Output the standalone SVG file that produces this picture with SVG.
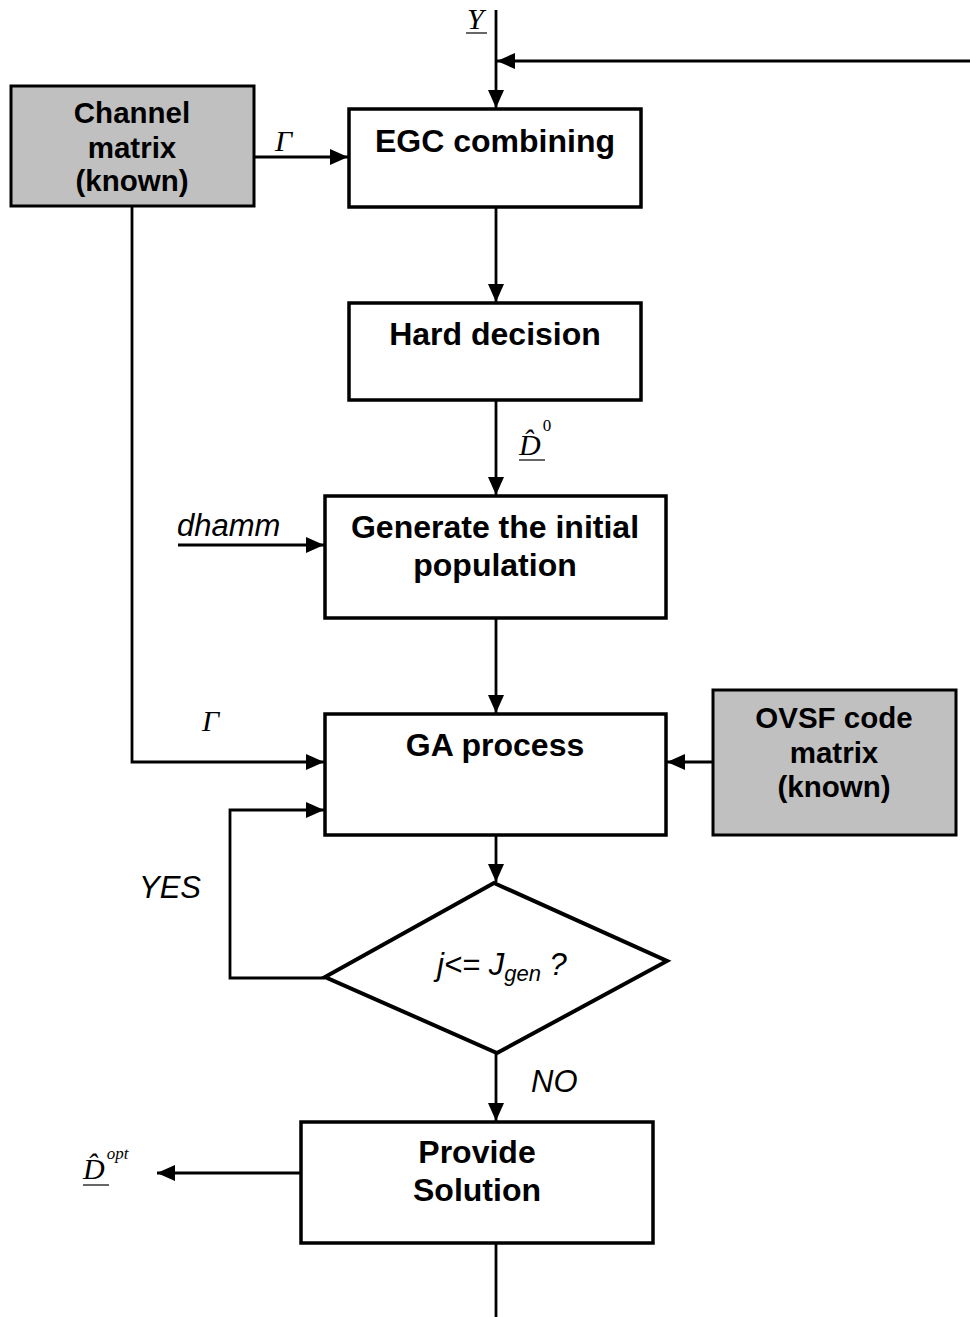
<svg xmlns="http://www.w3.org/2000/svg" width="970" height="1317" viewBox="0 0 970 1317">
<style>
.box{fill:#fff;stroke:#000;stroke-width:3.5}
.gray{fill:#c0c0c0;stroke:#000;stroke-width:3}
.t{font-family:"Liberation Sans",Arial,sans-serif;font-weight:bold;font-size:32px;text-anchor:middle;fill:#000}
.tg{font-family:"Liberation Sans",Arial,sans-serif;font-weight:bold;font-size:29.5px;text-anchor:middle;fill:#000}
.lab{font-family:"Liberation Sans",Arial,sans-serif;font-style:italic;font-size:31px;fill:#000}
.sym{font-family:"Liberation Serif","Times New Roman",serif;font-style:italic;font-size:30px;fill:#000}
.sup{font-family:"Liberation Serif","Times New Roman",serif;font-size:17px;fill:#000}
.c{fill:none;stroke:#000;stroke-width:2.8}
.ul{stroke:#000;stroke-width:1.2}
</style>
<defs>
<marker id="ah" markerWidth="18" markerHeight="16" refX="18" refY="8" orient="auto" markerUnits="userSpaceOnUse">
<path d="M0,0 L18,8 L0,16 Z" fill="#000"/>
</marker>
</defs>
<rect width="970" height="1317" fill="#fff"/>
<g id="connectors">
<line class="c" x1="496" y1="10" x2="496" y2="108" marker-end="url(#ah)"/>
<line class="c" x1="970" y1="61" x2="497" y2="61" marker-end="url(#ah)"/>
<line class="c" x1="254" y1="157" x2="348" y2="157" marker-end="url(#ah)"/>
<line class="c" x1="496" y1="207" x2="496" y2="302" marker-end="url(#ah)"/>
<line class="c" x1="496" y1="400" x2="496" y2="495" marker-end="url(#ah)"/>
<line class="c" x1="178" y1="545" x2="324" y2="545" marker-end="url(#ah)"/>
<line class="c" x1="496" y1="618" x2="496" y2="713" marker-end="url(#ah)"/>
<polyline class="c" points="132,207 132,762 324,762" marker-end="url(#ah)"/>
<line class="c" x1="713" y1="762" x2="667" y2="762" marker-end="url(#ah)"/>
<line class="c" x1="496" y1="835" x2="496" y2="882" marker-end="url(#ah)"/>
<polyline class="c" points="325,978 230,978 230,810 324,810" marker-end="url(#ah)"/>
<line class="c" x1="496" y1="1052" x2="496" y2="1121" marker-end="url(#ah)"/>
<line class="c" x1="301" y1="1173" x2="157" y2="1173" marker-end="url(#ah)"/>
<line class="c" x1="496" y1="1243" x2="496" y2="1317"/>
</g>
<g id="labels">
<text class="sym" x="467" y="29">Y</text>
<line class="ul" x1="466" y1="33" x2="487" y2="33"/>
<text class="sym" x="275" y="151">Γ</text>
<text class="sym" x="202" y="731">Γ</text>
<text class="sym" x="519" y="455">D&#x302;<tspan class="sup" font-style="normal" dx="2" dy="-24">0</tspan></text>
<line class="ul" x1="519" y1="460" x2="545" y2="460"/>
<text class="sym" x="83" y="1179">D&#x302;<tspan class="sup" font-style="italic" dx="2" dy="-20">opt</tspan></text>
<line class="ul" x1="83" y1="1185" x2="109" y2="1185"/>
<text class="lab" x="177" y="536">dhamm</text>
<text class="lab" x="139" y="898">YES</text>
<text class="lab" x="531" y="1092">NO</text>
</g>
<g id="channel">
<rect class="gray" x="11" y="86" width="243" height="120"/>
<text class="tg" x="132" y="123">Channel</text>
<text class="tg" x="132" y="158">matrix</text>
<text class="tg" x="132" y="191">(known)</text>
</g>
<g id="egc">
<rect class="box" x="349" y="109" width="292" height="98"/>
<text class="t" x="495" y="152">EGC combining</text>
</g>
<g id="hard">
<rect class="box" x="349" y="303" width="292" height="97"/>
<text class="t" x="495" y="345">Hard decision</text>
</g>
<g id="generate">
<rect class="box" x="325" y="496" width="341" height="122"/>
<text class="t" x="495" y="538">Generate the initial</text>
<text class="t" x="495" y="576">population</text>
</g>
<g id="ga">
<rect class="box" x="325" y="714" width="341" height="121"/>
<text class="t" x="495" y="756">GA process</text>
</g>
<g id="ovsf">
<rect class="gray" x="713" y="690" width="243" height="145"/>
<text class="tg" x="834" y="728">OVSF code</text>
<text class="tg" x="834" y="763">matrix</text>
<text class="tg" x="834" y="797">(known)</text>
</g>
<g id="decision">
<polygon points="494,883 667,961 497,1053 325,977" fill="#fff" stroke="#000" stroke-width="4"/>
<text class="lab" x="437" y="975" font-size="29">j&lt;= J<tspan font-size="22" dy="6">gen</tspan><tspan dy="-6"> ?</tspan></text>
</g>
<g id="provide">
<rect class="box" x="301" y="1122" width="352" height="121"/>
<text class="t" x="477" y="1163">Provide</text>
<text class="t" x="477" y="1201">Solution</text>
</g>
</svg>
